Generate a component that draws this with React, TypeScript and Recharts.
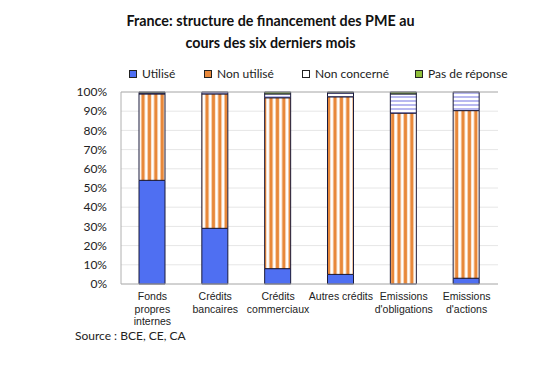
import React from 'react';
import {
  BarChart,
  Bar,
  XAxis,
  YAxis,
  CartesianGrid,
  ReferenceLine,
} from 'recharts';

const categories = [
  'Fonds propres internes',
  'Crédits bancaires',
  'Crédits commerciaux',
  'Autres crédits',
  "Emissions d'obligations",
  "Emissions d'actions",
];
const tickLines = [
  ['Fonds', 'propres', 'internes'],
  ['Crédits', 'bancaires'],
  ['Crédits', 'commerciaux'],
  ['Autres crédits'],
  ['Emissions', "d'obligations"],
  ['Emissions', "d'actions"],
];
const utilise = [54, 29, 8, 5, 0, 3];
const nonUtilise = [45, 70, 89, 92.5, 89, 87.3];
const nonConcerne = [0.5, 1, 2, 2, 10, 9.7];
const pasDeReponse = [0.5, 0, 1, 0.5, 1, 0];
const yTicks = [0, 10, 20, 30, 40, 50, 60, 70, 80, 90, 100];

const data = categories.map((name, i) => ({
  name,
  utilise: utilise[i],
  nonUtilise: nonUtilise[i],
  nonConcerne: nonConcerne[i],
  pasDeReponse: pasDeReponse[i],
}));

const legendItems = [
  { label: 'Utilisé', fill: '#4f6ff2', x: 129 },
  { label: 'Non utilisé', fill: '#e8883a', x: 204 },
  { label: 'Non concerné', fill: '#ffffff', x: 302 },
  { label: 'Pas de réponse', fill: '#8fbf3a', x: 415 },
];

function XTick(props: any) {
  const { x, y, payload } = props;
  const lines = tickLines[payload.index] ?? [payload.value];
  return (
    <text
      x={x}
      y={y + 8}
      textAnchor="middle"
      fontFamily="'Liberation Sans', Arial, sans-serif"
      fontSize={10.5}
      fill="#222"
    >
      {lines.map((l, i) => (
        <tspan key={i} x={x} dy={i === 0 ? 0 : 12.5}>
          {l}
        </tspan>
      ))}
    </text>
  );
}

export default function App() {
  return (
    <div
      style={{
        position: 'absolute',
        left: 0,
        top: 0,
        width: 534,
        height: 373,
        background: '#fff',
        fontFamily: 'Lato, sans-serif',
      }}
    >
      <svg width={0} height={0} style={{ position: 'absolute' }}>
        <defs>
          <pattern id="vstripe" width={6.4} height={4} patternUnits="userSpaceOnUse">
            <rect width={6.4} height={4} fill="#fff" />
            <rect x={0.5} width={3.4} height={4} fill="#e8883a" />
          </pattern>
          <pattern id="hstripe" width={4} height={4} patternUnits="userSpaceOnUse">
            <rect width={4} height={4} fill="#fff" />
            <rect y={0} width={4} height={2} fill="#b8b8f0" />
          </pattern>
        </defs>
      </svg>
      <div
        style={{
          position: 'absolute',
          top: 10,
          left: 0,
          width: 541,
          textAlign: 'center',
          fontWeight: 'bold',
          fontSize: 14.3,
          lineHeight: '22px',
          color: '#111',
        }}
      >
        France: structure de financement des PME au
        <br />
        cours des six derniers mois
      </div>
      {legendItems.map((it) => (
        <div
          key={it.label}
          style={{
            position: 'absolute',
            top: 66,
            left: it.x,
            fontSize: 12,
            color: '#222',
            display: 'flex',
            alignItems: 'center',
            whiteSpace: 'nowrap',
          }}
        >
          <span
            style={{
              display: 'inline-block',
              width: 6,
              height: 6,
              border: '1.2px solid #222',
              background: it.fill,
              marginRight: 5,
            }}
          />
          {it.label}
        </div>
      ))}
      <div
        style={{
          position: 'absolute',
          top: 328,
          left: 75,
          fontSize: 12,
          color: '#222',
        }}
      >
        Source : BCE, CE, CA
      </div>
      <div style={{ position: 'absolute', left: 0, top: 0 }}>
        <BarChart
          width={534}
          height={373}
          data={data}
          margin={{ top: 92, right: 36, bottom: 39, left: 71 }}
          barSize={26}
        >
          <CartesianGrid vertical={false} stroke="#e6e6e6" />
          <XAxis
            dataKey="name"
            interval={0}
            height={50}
            tickLine={false}
            axisLine={{ stroke: '#b0b0b0' }}
            tick={<XTick />}
          />
          <YAxis
            domain={[0, 100]}
            ticks={yTicks}
            interval={0}
            width={50}
            tickLine={false}
            axisLine={{ stroke: '#b0b0b0' }}
            tickFormatter={(v) => `${v}%`}
            tick={{ fontSize: 12, fill: '#222', fontFamily: 'Lato, sans-serif' }}
            tickMargin={8}
          />
          <YAxis
            yAxisId="r"
            orientation="right"
            domain={[0, 100]}
            width={0}
            tick={false}
            tickLine={false}
            axisLine={{ stroke: '#b0b0b0' }}
          />
          <ReferenceLine y={100} stroke="#b0b0b0" />
          <Bar dataKey="utilise" stackId="a" fill="#4f6ff2" stroke="#1a1a3a" strokeWidth={1} isAnimationActive={false} />
          <Bar dataKey="nonUtilise" stackId="a" fill="url(#vstripe)" stroke="#1a1a3a" strokeWidth={1} isAnimationActive={false} />
          <Bar dataKey="nonConcerne" stackId="a" fill="url(#hstripe)" stroke="#1a1a3a" strokeWidth={1} isAnimationActive={false} />
          <Bar dataKey="pasDeReponse" stackId="a" fill="#8fbf3a" stroke="#1a1a3a" strokeWidth={1} isAnimationActive={false} />
        </BarChart>
      </div>
    </div>
  );
}
